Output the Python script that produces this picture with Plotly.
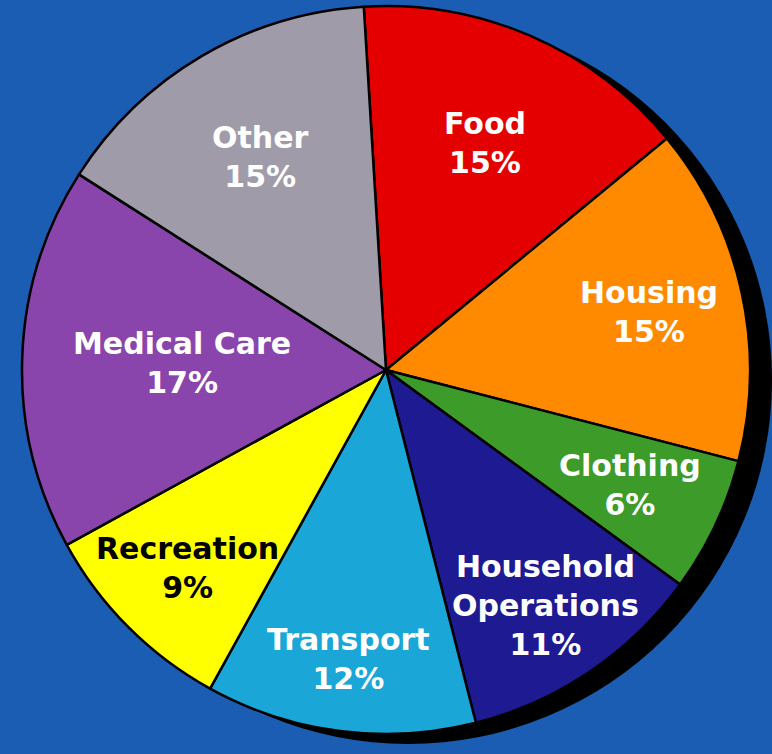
import math
import plotly.graph_objects as go

# Household spending breakdown (percent of total)
categories = ["Food", "Housing", "Clothing", "Household<br>Operations",
              "Transport", "Recreation", "Medical Care", "Other"]
shares = [15, 15, 6, 11, 12, 9, 17, 15]

slice_colors = ["#e50000", "#ff8a00", "#3d9b2a", "#1d1a92",
                "#1aa6d6", "#ffff00", "#8a45ad", "#a09ba8"]
label_colors = ["white", "white", "white", "white",
                "white", "black", "white", "white"]
# how far out (as a fraction of the radius) each label sits
label_radius = [0.68, 0.74, 0.74, 0.78, 0.80, 0.77, 0.56, 0.68]

W, H = 772, 754
BG = "#1b5db2"
ROTATION = -3.5  # first slice starts just left of 12 o'clock

# pie geometry in pixels
cx, cy, R = 386, 370, 364
shadow_dx, shadow_dy = 22, 10


def dom(cx_, cy_, r_):
    return dict(x=[(cx_ - r_) / W, (cx_ + r_) / W],
                y=[(H - cy_ - r_) / H, (H - cy_ + r_) / H])


fig = go.Figure()

# drop shadow behind the pie
fig.add_trace(go.Pie(
    values=[1], labels=["shadow"], sort=False,
    marker=dict(colors=["#000000"], line=dict(width=0)),
    textinfo="none", hoverinfo="skip", showlegend=False,
    domain=dom(cx + shadow_dx, cy + shadow_dy, R),
))

fig.add_trace(go.Pie(
    values=shares, labels=categories, sort=False,
    direction="clockwise", rotation=ROTATION,
    marker=dict(colors=slice_colors, line=dict(color="#000000", width=2.5)),
    textinfo="none", showlegend=False,
    domain=dom(cx, cy, R),
))

# labels placed at each slice's mid-angle
total = sum(shares)
acc = 0.0
for name, val, col, fr in zip(categories, shares, label_colors, label_radius):
    mid = ROTATION + (acc + val / 2) / total * 360
    acc += val
    a = math.radians(mid)
    px = cx + R * fr * math.sin(a)
    py = cy - R * fr * math.cos(a)
    fig.add_annotation(
        x=px / W, y=1 - py / H, xref="paper", yref="paper",
        text=f"<b>{name}<br>{val}%</b>", showarrow=False,
        font=dict(family="DejaVu Sans", size=30, color=col),
        align="center", xanchor="center", yanchor="middle",
    )

fig.update_layout(
    width=W, height=H,
    margin=dict(l=0, r=0, t=0, b=0),
    paper_bgcolor=BG, plot_bgcolor=BG,
)

fig.write_html("out.html")
